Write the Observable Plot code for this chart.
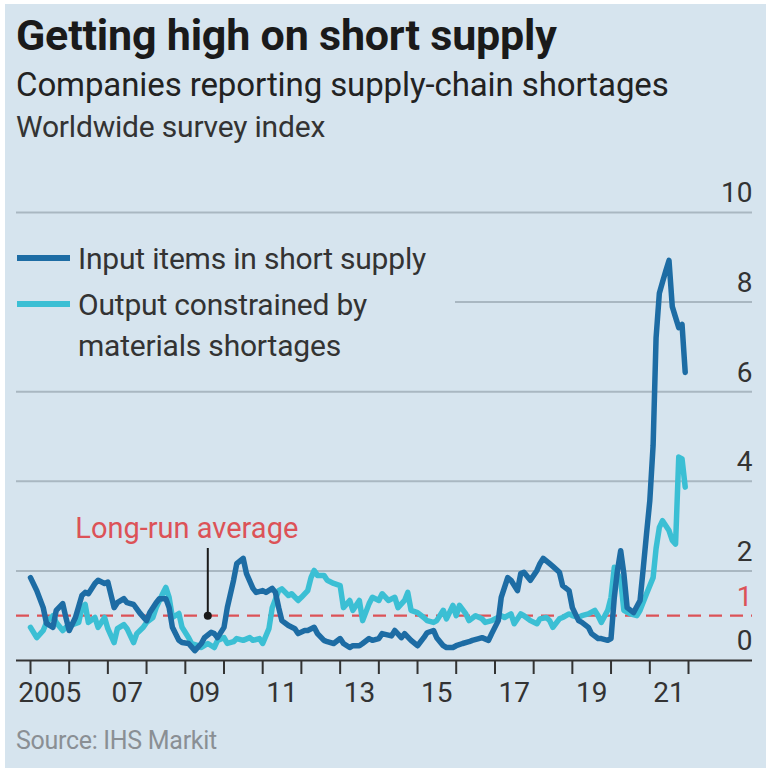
<!DOCTYPE html>
<html>
<head>
<meta charset="utf-8">
<script src="https://cdn.jsdelivr.net/npm/d3@7"></script>
<script src="https://cdn.jsdelivr.net/npm/@observablehq/plot@0.6"></script>
<style>
  html, body { margin: 0; padding: 0; background: #ffffff; }
  #page { position: relative; width: 766px; height: 774px; overflow: hidden; }
  #bg { position: absolute; left: 5px; top: 4px; width: 761px; height: 764px; background: #d6e4ee; }
  .t { position: absolute; white-space: nowrap; font-family: Roboto, "Noto Sans", sans-serif; color: #1a1a1a; }
  #title { left: 16px; top: 10px; font-size: 43px; font-weight: 700; letter-spacing: -0.2px; }
  #subtitle { left: 16px; top: 65px; font-size: 33px; font-weight: 400; color: #222; letter-spacing: -0.1px; }
  #subsub { left: 16px; top: 109px; font-size: 30px; font-weight: 400; color: #333; letter-spacing: -0.2px; }
  #source { left: 16px; top: 726px; font-size: 25px; color: #8a8f94; letter-spacing: -0.3px; }
  #plot { position: absolute; left: 0; top: 150px; }
  #legend { position: absolute; left: 10px; top: 232px; width: 445px; height: 130px; background: #d6e4ee; }
  .item { position: absolute; left: 7px; font-family: Roboto, "Noto Sans", sans-serif; font-size: 30px; color: #333; line-height: 41px; letter-spacing: -0.2px; }
  .sw { position: absolute; left: 0; width: 53px; height: 6px; }
  .lab { position: absolute; left: 61px; white-space: nowrap; }
</style>
</head>
<body>
<div id="page">
  <div id="bg"></div>
  <div id="title" class="t">Getting high on short supply</div>
  <div id="subtitle" class="t">Companies reporting supply-chain shortages</div>
  <div id="subsub" class="t">Worldwide survey index</div>
  <div id="plot"></div>
  <div id="legend"></div>
  <div id="source" class="t">Source: IHS Markit</div>
</div>
<script>
// ---------- data ----------
const seriesNames = ["Input items in short supply", "Output constrained by materials shortages"];
const seriesColors = ["#1d6ca4", "#3bbfd4"];

const inputDates = ["2005-01","2005-03","2005-05","2005-06","2005-08","2005-09","2005-11","2005-12",
"2006-01","2006-03","2006-05","2006-06","2006-07","2006-09","2006-10","2006-12",
"2007-01","2007-03","2007-04","2007-06","2007-07","2007-09","2007-11",
"2008-01","2008-02","2008-04","2008-05","2008-07","2008-08","2008-09","2008-11","2008-12",
"2009-02","2009-04","2009-06","2009-07","2009-09","2009-10","2009-11",
"2010-01","2010-02","2010-04","2010-05","2010-07","2010-08","2010-10","2010-11",
"2011-01","2011-02","2011-04","2011-05","2011-06","2011-07","2011-09","2011-11","2011-12",
"2012-02","2012-03","2012-05","2012-06","2012-08","2012-09","2012-11",
"2013-01","2013-02","2013-04","2013-05","2013-07","2013-08","2013-10","2013-11",
"2014-01","2014-02","2014-05","2014-06","2014-08","2014-09","2014-11",
"2015-01","2015-03","2015-04","2015-06","2015-07","2015-09","2015-10","2015-12",
"2016-01","2016-03","2016-05","2016-06","2016-08","2016-09","2016-11","2016-12",
"2017-02","2017-03","2017-05","2017-06","2017-08","2017-09","2017-10","2017-12",
"2018-02","2018-03","2018-04","2018-06","2018-07","2018-09","2018-10","2018-12",
"2019-01","2019-03","2019-04","2019-06","2019-07","2019-09","2019-10","2019-12",
"2020-01","2020-02","2020-03","2020-04","2020-05","2020-06","2020-08","2020-10","2020-11","2020-12",
"2021-01","2021-02","2021-03","2021-04","2021-05","2021-06","2021-07","2021-08","2021-09","2021-10","2021-11","2021-12"];
const inputValues = [1.85,1.56,1.18,0.83,0.74,1.12,1.27,0.96,
0.67,0.96,1.45,1.52,1.49,1.72,1.79,1.72,
1.75,1.18,1.29,1.38,1.29,1.25,1.05,
0.89,1.07,1.29,1.38,1.38,1.18,0.74,0.45,0.40,
0.38,0.22,0.38,0.51,0.63,0.60,0.51,
0.74,1.18,1.79,2.16,2.28,1.94,1.61,1.52,
1.56,1.52,1.61,1.52,1.18,0.89,0.78,0.71,0.60,
0.67,0.67,0.74,0.60,0.45,0.42,0.38,
0.49,0.38,0.29,0.33,0.33,0.38,0.49,0.45,
0.49,0.60,0.55,0.67,0.51,0.60,0.45,
0.33,0.51,0.62,0.67,0.51,0.33,0.29,0.29,
0.33,0.38,0.42,0.45,0.49,0.51,0.45,0.60,
0.89,1.41,1.85,1.79,1.56,1.94,1.97,1.79,
2.01,2.16,2.28,2.16,2.10,1.97,1.67,1.56,
1.18,0.89,0.85,0.74,0.60,0.49,0.49,0.45,
0.49,1.41,2.00,2.45,1.94,1.18,1.07,1.34,2.08,2.83,
3.57,4.80,7.20,8.20,8.45,8.70,8.93,7.90,7.66,7.43,7.50,6.43];

const outputDates = ["2005-01","2005-03","2005-05","2005-06","2005-08","2005-09","2005-11","2005-12",
"2006-02","2006-04","2006-05","2006-06","2006-07","2006-09","2006-10","2006-12",
"2007-01","2007-03","2007-04","2007-06","2007-07","2007-09","2007-10","2007-12",
"2008-01","2008-03","2008-04","2008-06","2008-07","2008-08","2008-09","2008-11","2008-12",
"2009-02","2009-03","2009-05","2009-06","2009-08","2009-10","2009-11",
"2010-01","2010-02","2010-04","2010-05","2010-07","2010-09","2010-10","2010-12",
"2011-01","2011-03","2011-04","2011-06","2011-07","2011-09","2011-10","2011-12",
"2012-01","2012-03","2012-04","2012-05","2012-06","2012-08","2012-09","2012-11",
"2013-01","2013-02","2013-04","2013-05","2013-07","2013-08","2013-10","2013-11",
"2014-01","2014-02","2014-04","2014-06","2014-07","2014-09","2014-10","2014-11",
"2015-01","2015-03","2015-04","2015-06","2015-07","2015-09","2015-10","2015-12",
"2016-01","2016-02","2016-04","2016-05","2016-07","2016-09","2016-10","2016-12",
"2017-01","2017-03","2017-04","2017-06","2017-07","2017-09","2017-10","2017-12",
"2018-02","2018-03","2018-05","2018-06","2018-07","2018-09","2018-10","2018-12",
"2019-01","2019-03","2019-04","2019-06","2019-08","2019-09","2019-10","2019-12",
"2020-01","2020-02","2020-04","2020-05","2020-07","2020-09","2020-10","2020-12",
"2021-02","2021-03","2021-04","2021-05","2021-07","2021-08","2021-09","2021-10","2021-11","2021-12"];
const outputValues = [0.74,0.51,0.67,0.85,1.00,0.85,0.67,0.74,
0.80,0.85,1.18,1.25,0.85,0.96,0.74,0.96,
0.71,0.40,0.71,0.80,0.71,0.40,0.60,0.74,
0.85,0.96,1.18,1.49,1.63,1.41,0.96,1.05,0.74,
0.51,0.38,0.33,0.29,0.38,0.29,0.45,
0.51,0.38,0.42,0.49,0.45,0.51,0.45,0.49,
0.38,0.71,1.18,1.56,1.60,1.45,1.49,1.34,
1.41,1.56,1.85,2.01,1.90,1.90,1.79,1.72,
1.67,1.18,1.34,1.12,1.34,0.89,1.27,1.41,
1.34,1.49,1.34,1.41,1.18,1.34,1.52,1.12,
1.07,0.96,0.89,0.85,0.89,1.12,0.93,1.23,
1.00,1.23,1.04,0.89,1.00,0.93,0.85,0.89,
0.93,1.00,0.96,1.04,0.82,1.04,1.00,0.89,
0.82,0.93,0.96,0.89,0.74,0.93,0.96,1.04,
1.00,0.96,1.00,1.04,1.12,1.00,0.85,1.12,
1.41,2.08,1.79,1.12,1.04,1.00,1.12,1.49,
1.85,2.50,2.97,3.12,2.90,2.68,2.60,4.54,4.50,3.87];

const longRunAverage = 1;
const yTicks = [0, 2, 4, 6, 8, 10];
const tickYears = d3.range(2005, 2023);
const labelYears = [2005, 2007, 2009, 2011, 2013, 2015, 2017, 2019, 2021];
const annotation = {label: "Long-run average", date: "2009-08", top: 2.5, textY: 2.95};

// ---------- build ----------
const parse = d3.utcParse("%Y-%m");
const inputData = inputDates.map((d, i) => ({date: parse(d), value: inputValues[i]}));
const outputData = outputDates.map((d, i) => ({date: parse(d), value: outputValues[i]}));
const tickDates = tickYears.map(y => new Date(Date.UTC(y, 0, 1)));
const labelDates = labelYears.map(y => new Date(Date.UTC(y, 6, 2)));
const fmtYear = d => { const y = d.getUTCFullYear(); return y === 2005 ? "2005" : String(y).slice(2); };
const annot = [{date: parse(annotation.date), y: longRunAverage, top: annotation.top, textY: annotation.textY, label: annotation.label}];

const red = "#dc5257";
const font = "Roboto, 'Noto Sans', sans-serif";

const chart = Plot.plot({
  width: 766,
  height: 565,
  marginLeft: 30,
  marginRight: 78,
  marginTop: 62,
  marginBottom: 55,
  style: {background: "transparent", fontFamily: font, overflow: "visible"},
  x: {type: "utc", domain: [tickDates[0], tickDates[tickDates.length - 1]]},
  y: {domain: [0, 10], axis: null},
  marks: [
    Plot.ruleY(yTicks.filter(d => d > 0), {stroke: "#a9b7c1", strokeWidth: 2, insetLeft: -14, insetRight: -64}),
    Plot.ruleY([longRunAverage], {stroke: red, strokeWidth: 2.2, strokeDasharray: "13,8", insetLeft: -14, insetRight: -64}),
    Plot.text(yTicks, {y: d => d, text: d => String(d), frameAnchor: "right", textAnchor: "end", dx: 64, dy: -19, fontSize: 28, fill: "#333"}),
    Plot.text([longRunAverage], {y: d => d, text: d => String(d), frameAnchor: "right", textAnchor: "end", dx: 64, dy: -19, fontSize: 28, fill: red}),
    Plot.ruleX(annot, {x: "date", y1: "y", y2: "top", stroke: "#1a1a1a", strokeWidth: 2}),
    Plot.dot(annot, {x: "date", y: "y", r: 4, fill: "#1a1a1a"}),
    Plot.text(annot, {x: "date", y: "textY", text: "label", fill: red, fontSize: 29, dx: -21}),
    Plot.lineY(outputData, {x: "date", y: "value", stroke: seriesColors[1], strokeWidth: 5.5, strokeLinejoin: "round", strokeLinecap: "round"}),
    Plot.lineY(inputData, {x: "date", y: "value", stroke: seriesColors[0], strokeWidth: 5.5, strokeLinejoin: "round", strokeLinecap: "round"}),
    Plot.ruleY([0], {stroke: "#333", strokeWidth: 2, insetLeft: -14, insetRight: -64}),
    Plot.axisX({ticks: tickDates, tickSize: 14, tickFormat: () => "", stroke: "#333", strokeWidth: 2}),
    Plot.axisX({ticks: labelDates, tickSize: 0, tickPadding: 22, tickFormat: fmtYear, fontSize: 28, fill: "#333"})
  ]
});
document.getElementById("plot").appendChild(chart);

// legend (HTML, over the plot)
const legend = document.getElementById("legend");
const rows = [{lines: [seriesNames[0]], top: 6}, {lines: ["Output constrained by", "materials shortages"], top: 52}];
rows.forEach((r, i) => {
  const it = document.createElement("div");
  it.className = "item";
  it.style.top = r.top + "px";
  const sw = document.createElement("div");
  sw.className = "sw";
  sw.style.background = seriesColors[i];
  sw.style.top = "17px";
  it.appendChild(sw);
  const lab = document.createElement("div");
  lab.className = "lab";
  lab.innerHTML = r.lines.join("<br>");
  it.appendChild(lab);
  legend.appendChild(it);
});
</script>
</body>
</html>
